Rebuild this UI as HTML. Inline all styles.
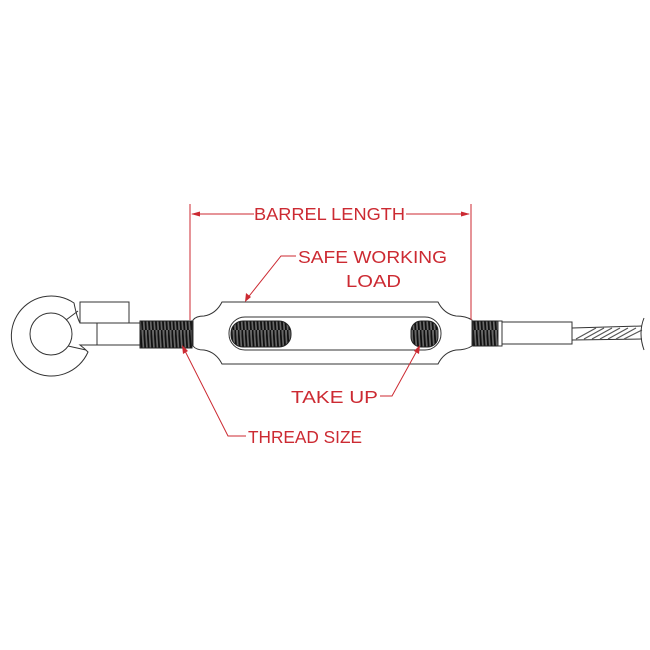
<!DOCTYPE html>
<html><head><style>html,body{margin:0;padding:0;background:#fff}svg{display:block}</style></head>
<body>
<svg width="650" height="650" viewBox="0 0 650 650" xmlns="http://www.w3.org/2000/svg">
<defs>
<pattern id="thr" width="3.5" height="30" patternUnits="userSpaceOnUse">
<rect width="3.5" height="30" fill="#666"/>
<path d="M0.5 0 L2.5 30" stroke="#111" stroke-width="1.8"/>
</pattern>
</defs>
<rect width="650" height="650" fill="#fff"/>
<g fill="none" stroke="#333" stroke-width="1">
<!-- eye -->
<path d="M74 303 A40 40 0 1 0 88 352 Q84 348 80 345 L97 345 L97 323 L80 323 Q77 318 74 303 Z" fill="#fff"/>
<circle cx="51" cy="334" r="21" fill="#fff"/>
<line x1="66" y1="320" x2="78" y2="311"/>
<line x1="68" y1="346" x2="86" y2="350"/>
<rect x="80" y="302" width="49" height="21" fill="#fff"/>
<rect x="97" y="323" width="43" height="22" fill="#fff"/>
<!-- left thread -->
<rect x="140" y="321" width="52" height="27" fill="url(#thr)" stroke="#222"/>
<!-- barrel -->
<path d="M222 302 L438 302 Q444 314 456 316 Q466 316 472 320 L472 346 Q466 350 456 350 Q444 352 438 364 L222 364 Q216 352 204 350 Q196 350 193 346 L193 320 Q196 316 204 316 Q216 314 222 302 Z" fill="#fff"/>
<rect x="229" y="317" width="212" height="33" rx="16" fill="#fff"/>
<rect x="231" y="321" width="60" height="26" rx="12" fill="url(#thr)" stroke="#222"/>
<rect x="411" y="321" width="27" height="26" rx="10" fill="url(#thr)" stroke="#222"/>
<!-- right thread -->
<rect x="473" y="321" width="27" height="25" fill="url(#thr)" stroke="#222"/>
<rect x="498" y="321" width="4" height="25" fill="#fff"/>
<rect x="502" y="322" width="70" height="22" fill="#fff"/>
<!-- cable -->
<path d="M572 328 L642 326 M572 340 L642 339" />
<g stroke="#555" stroke-width="1.2">
<path d="M576 339 L596 328 M584 339 L604 328 M592 339 L612 328 M600 339 L620 328 M608 339 L628 328 M616 339 L636 328 M624 339 L642 330"/>
</g>
<path d="M644 318 Q638 333 644 350" />
</g>
<g stroke="#cc2a32" fill="none" stroke-width="1">
<line x1="190" y1="204" x2="190" y2="320"/>
<line x1="471" y1="204" x2="471" y2="320"/>
<line x1="192" y1="214" x2="254" y2="214"/>
<line x1="406" y1="214" x2="469" y2="214"/>
<path d="M296 256 L281 256 L246 300"/>
<path d="M380 396 L392 396 L419 347"/>
<path d="M246 436 L228 436 L183 347"/>
</g>
<g fill="#cc2a32">
<path d="M191 214 L200 211.5 L200 216.5 Z"/>
<path d="M470 214 L461 211.5 L461 216.5 Z"/>
<path d="M245 302 L246 293 L251 297 Z"/>
<path d="M420 345 L419 354 L414 351 Z"/>
<path d="M182 345 L183 354 L188 351 Z"/>
</g>
<g fill="#cc2a32" font-family="'Liberation Sans',sans-serif" font-size="17.5">
<text x="254" y="220" textLength="151" lengthAdjust="spacingAndGlyphs">BARREL LENGTH</text>
<text x="298" y="263" textLength="149" lengthAdjust="spacingAndGlyphs">SAFE WORKING</text>
<text x="346" y="287" textLength="55" lengthAdjust="spacingAndGlyphs">LOAD</text>
<text x="291" y="403" textLength="87" lengthAdjust="spacingAndGlyphs">TAKE UP</text>
<text x="248" y="443" textLength="114" lengthAdjust="spacingAndGlyphs">THREAD SIZE</text>
</g>
</svg>
</body></html>
